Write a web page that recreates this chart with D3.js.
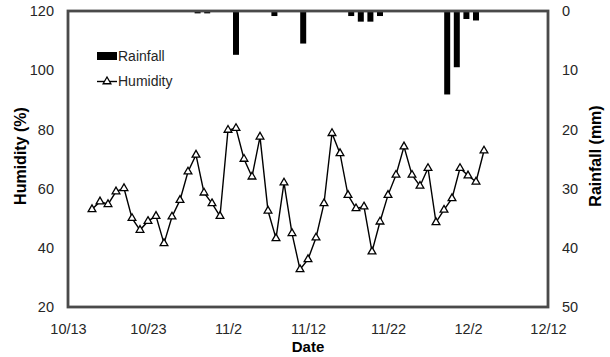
<!DOCTYPE html>
<html>
<head>
<meta charset="utf-8">
<script src="https://cdn.jsdelivr.net/npm/d3@7"></script>
<style>
  body { margin: 0; background: #fff; }
  text { font-family: "Liberation Sans", Arial, sans-serif; }
</style>
</head>
<body>
<div id="chart"></div>
<script>
var svgWidth = 610;
var svgHeight = 357;

var margin = { top: 11, bottom: 50, left: 68, right: 62 };
var chartWidth = svgWidth - margin.left - margin.right;   // 480
var chartHeight = svgHeight - margin.top - margin.bottom; // 296

// Daily observation dates (one per day, 10/16 to 12/4)
var dates = ["10/16","10/17","10/18","10/19","10/20","10/21","10/22","10/23","10/24","10/25",
             "10/26","10/27","10/28","10/29","10/30","10/31","11/1","11/2","11/3","11/4",
             "11/5","11/6","11/7","11/8","11/9","11/10","11/11","11/12","11/13","11/14",
             "11/15","11/16","11/17","11/18","11/19","11/20","11/21","11/22","11/23","11/24",
             "11/25","11/26","11/27","11/28","11/29","11/30","12/1","12/2","12/3","12/4"];

// Relative humidity (%)
var humidity = [53, 55.6, 54.7, 59, 60.1, 50, 46, 49, 50.7, 41.5,
                50.5, 56.1, 65.7, 71.4, 58.6, 55, 50.7, 79.8, 80.4, 70,
                64, 77.5, 52.5, 43.2, 62, 44.9, 32.7, 36.1, 43.4, 55,
                78.7, 71.9, 57.8, 53.3, 53.9, 38.7, 48.8, 57.8, 64.6, 74.2,
                64.6, 60.9, 66.9, 48.6, 52.8, 56.7, 66.9, 64.4, 62.3, 72.8];

// Daily rainfall (mm)
var rainfall = [0, 0, 0, 0, 0, 0, 0, 0, 0, 0,
                0, 0, 0, 0.4, 0.4, 0, 0, 7.4, 0, 0,
                0, 0.85, 0.1, 0.1, 5.5, 0, 0, 0, 0, 0.85,
                1.8, 1.8, 0.85, 0, 0, 0, 0, 0, 0, 14.1,
                9.5, 1.35, 1.6, 0, 0, 0, 0, 0, 0, 0];

var xTickLabels = ["10/13", "10/23", "11/2", "11/12", "11/22", "12/2", "12/12"];
var humidityTicks = [20, 40, 60, 80, 100, 120];
var rainTicks = [0, 10, 20, 30, 40, 50];

var parseDate = d3.timeParse("%m/%d");
var formatDate = d3.timeFormat("%-m/%-d");

var data = dates.map(function(d, i) {
    return { date: parseDate(d), label: d, humidity: humidity[i], rain: rainfall[i] };
});

var svg = d3.select('#chart')
    .append('svg')
    .attr('width', svgWidth)
    .attr('height', svgHeight);

var chartGroup = svg.append('g')
    .attr('transform', `translate(${margin.left},${margin.top})`);

// Scales
var xTimeScale = d3.scaleTime()
    .domain([parseDate(xTickLabels[0]), parseDate(xTickLabels[xTickLabels.length - 1])])
    .range([0, chartWidth]);

// rainfall bars sit on a hidden category axis spanning the plot
var xBandScale = d3.scaleBand()
    .domain(dates)
    .range([0, chartWidth])
    .paddingInner(0.375)
    .paddingOuter(0.1875);

var yHumScale = d3.scaleLinear().domain([20, 120]).range([chartHeight, 0]);
var yRainScale = d3.scaleLinear().domain([0, 50]).range([0, chartHeight]);

// Axes
var bottomAxis = d3.axisBottom(xTimeScale)
    .tickValues(xTickLabels.map(parseDate))
    .tickFormat(formatDate)
    .tickSize(0)
    .tickPadding(17);
var leftAxis = d3.axisLeft(yHumScale).tickValues(humidityTicks).tickSize(0).tickPadding(14);
var rightAxis = d3.axisRight(yRainScale).tickValues(rainTicks).tickSize(0).tickPadding(14);

var xAxis = chartGroup.append('g')
    .attr('transform', `translate(0,${chartHeight})`)
    .call(bottomAxis);
var yAxis = chartGroup.append('g').call(leftAxis);
var y2Axis = chartGroup.append('g')
    .attr('transform', `translate(${chartWidth},0)`)
    .call(rightAxis);

[xAxis, yAxis, y2Axis].forEach(function(ax) {
    ax.select('.domain').remove();
    ax.selectAll('text')
        .attr('fill', '#262626')
        .attr('font-size', '14.5px');
});

// Rainfall bars hanging from the top
chartGroup.selectAll('.rainBar')
    .data(data.filter(d => d.rain > 0))
    .enter()
    .append('rect')
    .attr('class', 'rainBar')
    .attr('x', d => xBandScale(d.label))
    .attr('y', 0)
    .attr('width', xBandScale.bandwidth())
    .attr('height', d => yRainScale(d.rain))
    .attr('fill', '#000');

// Humidity line
var line = d3.line()
    .x(d => xTimeScale(d.date))
    .y(d => yHumScale(d.humidity));

chartGroup.append('path')
    .datum(data)
    .attr('d', line)
    .attr('fill', 'none')
    .attr('stroke', '#000')
    .attr('stroke-width', 1.4);

var triangle = d3.symbol().type(d3.symbolTriangle).size(26);

chartGroup.selectAll('.humPoint')
    .data(data)
    .enter()
    .append('path')
    .attr('class', 'humPoint')
    .attr('d', triangle)
    .attr('transform', d => `translate(${xTimeScale(d.date)},${yHumScale(d.humidity)})`)
    .attr('fill', '#fff')
    .attr('stroke', '#000')
    .attr('stroke-width', 1.3);

// Plot frame
chartGroup.append('rect')
    .attr('x', 0)
    .attr('y', 0)
    .attr('width', chartWidth)
    .attr('height', chartHeight)
    .attr('fill', 'none')
    .attr('stroke', '#4a4a4a')
    .attr('stroke-width', 2.8);

// Legend
var legend = svg.append('g');
legend.append('rect')
    .attr('x', 97).attr('y', 52)
    .attr('width', 20).attr('height', 8)
    .attr('fill', '#000');
legend.append('text')
    .attr('x', 118).attr('y', 56)
    .attr('dy', '0.35em')
    .attr('font-size', '14px')
    .attr('fill', '#262626')
    .text('Rainfall');
legend.append('line')
    .attr('x1', 97).attr('x2', 117)
    .attr('y1', 81.5).attr('y2', 81.5)
    .attr('stroke', '#000')
    .attr('stroke-width', 1.4);
legend.append('path')
    .attr('d', triangle)
    .attr('transform', 'translate(107,81.5)')
    .attr('fill', '#fff')
    .attr('stroke', '#000')
    .attr('stroke-width', 1.3);
legend.append('text')
    .attr('x', 118).attr('y', 81.5)
    .attr('dy', '0.35em')
    .attr('font-size', '14px')
    .attr('fill', '#262626')
    .text('Humidity');

// Axis titles
svg.append('text')
    .attr('transform', `translate(${margin.left + chartWidth / 2},352)`)
    .attr('text-anchor', 'middle')
    .attr('font-size', '15px')
    .attr('font-weight', 'bold')
    .text('Date');

svg.append('text')
    .attr('transform', 'translate(26,156) rotate(-90)')
    .attr('text-anchor', 'middle')
    .attr('font-size', '16px')
    .attr('font-weight', 'bold')
    .text('Humidity (%)');

svg.append('text')
    .attr('transform', 'translate(601,156) rotate(-90)')
    .attr('text-anchor', 'middle')
    .attr('font-size', '16px')
    .attr('font-weight', 'bold')
    .text('Rainfall (mm)');
</script>
</body>
</html>
